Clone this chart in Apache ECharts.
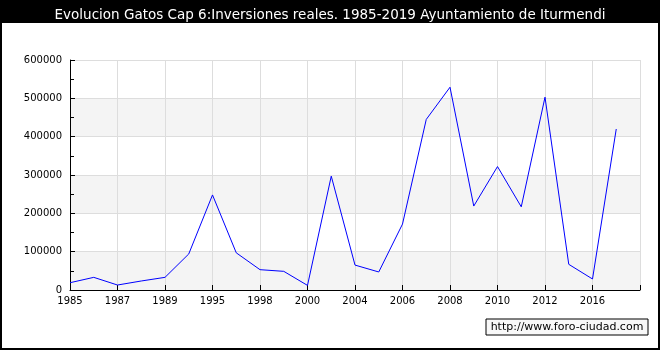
<!DOCTYPE html>
<html><head><meta charset="utf-8">
<script src="https://cdn.jsdelivr.net/npm/echarts@6/dist/echarts.min.js"></script>
<style>html,body{margin:0;padding:0;background:#fff}#c{width:660px;height:350px}</style>
</head><body><div id="c"></div>
<script>
const titleText = 'Evolucion Gatos Cap 6:Inversiones reales. 1985-2019 Ayuntamiento de Iturmendi';
const categories = ['1985','1986','1987','1988','1989','1993','1995','1997','1998','1999','2000','2002','2004','2005','2006','2007','2008','2009','2010','2011','2012','2014','2016','2017',''];
const values = [19000,33000,13000,23500,33000,94000,248000,97000,53000,48700,12000,297000,65000,47000,172000,445000,529000,219000,322000,217000,503000,67000,28700,420000,null];
const yMin = 0, yMax = 600000, yStep = 100000;
const watermark = 'http://www.foro-ciudad.com';

const chart = echarts.init(document.getElementById('c'), null, {renderer:'canvas'});
chart.setOption({
  animation:false,
  backgroundColor:'#fff',
  title:{text:titleText,left:'center',top:3,textStyle:{color:'#fff',fontFamily:'DejaVu Sans',fontSize:13.5,fontWeight:'normal'}},
  graphic:[
    {type:'rect',z:-1,shape:{x:0,y:0,width:660,height:23},style:{fill:'#000'}},
    {type:'rect',z:-1,shape:{x:1,y:1,width:658,height:348},style:{fill:'none',stroke:'#000',lineWidth:2}},
    {type:'rect',shape:{x:486,y:319,width:162,height:16},style:{fill:'#f8f8f8',stroke:'#000',lineWidth:1}},
    {type:'text',x:567,y:327,style:{text:watermark,fill:'#000',font:'11px "DejaVu Sans"',align:'center',verticalAlign:'middle'}}
  ],
  grid:{left:70,right:20,top:60,bottom:60,containLabel:false},
  xAxis:{type:'category',data:categories,boundaryGap:false,
    axisLine:{lineStyle:{color:'#000',width:1}},
    axisTick:{inside:true,length:5,interval:1,lineStyle:{color:'#000'}},
    axisLabel:{interval:1,color:'#000',fontFamily:'DejaVu Sans',fontSize:10,margin:6},
    splitLine:{show:true,interval:1,lineStyle:{color:'#dddddd',width:1}}
  },
  yAxis:{type:'value',min:yMin,max:yMax,interval:yStep,
    axisLine:{show:true,lineStyle:{color:'#000',width:1}},
    axisTick:{show:true,inside:true,length:5,lineStyle:{color:'#000'}},
    minorTick:{show:true,splitNumber:2,length:4,lineStyle:{color:'#000'}},
    axisLabel:{color:'#000',fontFamily:'DejaVu Sans',fontSize:10,margin:8,formatter:v=>String(v)},
    splitLine:{show:true,lineStyle:{color:'#dddddd',width:1}},
    splitArea:{show:true,areaStyle:{color:['#f4f4f4','#ffffff']}}
  },
  series:[{type:'line',data:values,showSymbol:false,symbol:'none',lineStyle:{color:'#0000ff',width:1},connectNulls:false}]
});
</script></body></html>
